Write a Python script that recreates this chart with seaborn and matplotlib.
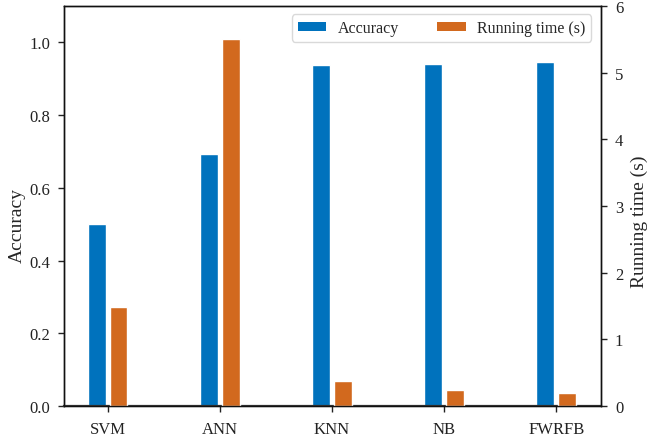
import matplotlib
matplotlib.use("Agg")
import matplotlib.pyplot as plt
import seaborn as sns
import pandas as pd
import numpy as np
from matplotlib.patches import Patch

methods = ["SVM", "ANN", "KNN", "NB", "FWRFB"]
accuracy = [0.50, 0.692, 0.937, 0.940, 0.945]
running_time = [1.49, 5.50, 0.37, 0.235, 0.19]
metrics = ["Accuracy", "Running time (s)"]
colors = ["#0072BD", "#D2691E"]

sns.set_theme(style="white")
plt.rcParams["font.family"] = ["Liberation Serif", "DejaVu Serif"]

df_acc = pd.DataFrame({
    "Method": methods * 2,
    "Metric": [metrics[0]] * 5 + [metrics[1]] * 5,
    "Value": accuracy + [np.nan] * 5,
})
df_rt = pd.DataFrame({
    "Method": methods * 2,
    "Metric": [metrics[0]] * 5 + [metrics[1]] * 5,
    "Value": [np.nan] * 5 + running_time,
})

fig = plt.figure(figsize=(6.47, 4.39), dpi=100)
ax = fig.add_axes([64 / 647, 1 - 407 / 439, (601 - 64) / 647, (407 - 7) / 439])
ax2 = ax.twinx()

pal = dict(zip(metrics, colors))
sns.barplot(data=df_acc, x="Method", y="Value", hue="Metric", hue_order=metrics,
            palette=pal, order=methods, width=0.39, gap=0.2, ax=ax,
            legend=False, saturation=1, errorbar=None)
sns.barplot(data=df_rt, x="Method", y="Value", hue="Metric", hue_order=metrics,
            palette=pal, order=methods, width=0.39, gap=0.2, ax=ax2,
            legend=False, saturation=1, errorbar=None)

ax.set_xlim(-0.39, 4.4)
ax.set_ylim(0, 1.1)
ax2.set_ylim(0, 6)
ax.set_yticks([0.0, 0.2, 0.4, 0.6, 0.8, 1.0])
ax.set_yticklabels(["0.0", "0.2", "0.4", "0.6", "0.8", "1.0"])
ax2.set_yticks([0, 1, 2, 3, 4, 5, 6])

ax.set_xlabel("")
ax.set_ylabel("Accuracy", fontsize=14)
ax2.set_ylabel("Running time (s)", fontsize=14)
ax.yaxis.set_label_coords(-0.071, 0.4525)
ax2.yaxis.set_label_coords(1.056, 0.4625)

for a in (ax, ax2):
    a.tick_params(axis="both", which="major", labelsize=12, direction="out",
                  length=4, width=1, colors="#222222", pad=6)
    for s in a.spines.values():
        s.set_color("#111111")
        s.set_linewidth(1.0)
ax.spines["bottom"].set_color("#333333")
ax.spines["bottom"].set_linewidth(1.6)
ax.tick_params(axis="x", pad=7, labelsize=12, bottom=True)
ax.tick_params(axis="y", left=True)
ax2.tick_params(axis="y", right=True)

handles = [Patch(facecolor=c, edgecolor="none") for c in colors]
leg = ax2.legend(handles, metrics, loc="upper right", ncol=2, fontsize=11.5,
                 frameon=True, fancybox=True, edgecolor="#d0d0d0",
                 bbox_to_anchor=(0.9965, 0.999), handlelength=1.8,
                 handleheight=0.55, columnspacing=2.4, handletextpad=0.7,
                 borderpad=0.35)
leg.get_frame().set_linewidth(1.0)

fig.savefig("out.png", dpi=100)
